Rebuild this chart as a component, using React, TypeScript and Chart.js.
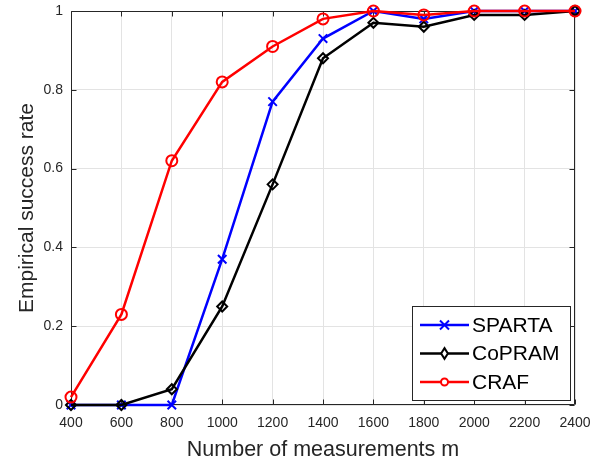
import React, { useEffect, useRef } from 'react';
import { Chart, registerables } from 'chart.js';

Chart.register(...registerables);

const measurements = [400, 600, 800, 1000, 1200, 1400, 1600, 1800, 2000, 2200, 2400];
const spartaRate = [0, 0, 0, 0.37, 0.77, 0.93, 1.0, 0.98, 1.0, 1.0, 1.0];
const copramRate = [0, 0, 0.04, 0.25, 0.56, 0.88, 0.97, 0.96, 0.99, 0.99, 1.0];
const crafRate = [0.02, 0.23, 0.62, 0.82, 0.91, 0.98, 1.0, 0.99, 1.0, 1.0, 1.0];
const seriesNames = ['SPARTA', 'CoPRAM', 'CRAF'];
const xTickValues = [400, 600, 800, 1000, 1200, 1400, 1600, 1800, 2000, 2200, 2400];
const yTickValues = [0, 0.2, 0.4, 0.6, 0.8, 1];
const xTitle = 'Number of measurements m';
const yTitle = 'Empirical success rate';

const FONT = '"Liberation Sans", Arial, Helvetica, sans-serif';
const AXIS_COLOR = '#262626';

function drawMarker(ctx: CanvasRenderingContext2D, kind: string, x: number, y: number, r: number, color: string) {
  ctx.save();
  ctx.strokeStyle = color;
  ctx.lineWidth = 2;
  ctx.beginPath();
  if (kind === 'crossRot') {
    ctx.moveTo(x - r, y - r);
    ctx.lineTo(x + r, y + r);
    ctx.moveTo(x + r, y - r);
    ctx.lineTo(x - r, y + r);
  } else if (kind === 'rectRot') {
    ctx.moveTo(x, y - r * 1.2);
    ctx.lineTo(x + r * 0.75, y);
    ctx.lineTo(x, y + r * 1.2);
    ctx.lineTo(x - r * 0.75, y);
    ctx.closePath();
    ctx.fillStyle = '#ffffff';
    ctx.fill();
  } else {
    ctx.arc(x, y, r, 0, Math.PI * 2);
    ctx.fillStyle = '#ffffff';
    ctx.fill();
  }
  ctx.stroke();
  ctx.restore();
}

const framePlugin = {
  id: 'matlabFrame',
  beforeDatasetsDraw(chart: any) {
    const { ctx, chartArea } = chart;
    const { left, right, top, bottom } = chartArea;
    const xs = chart.scales.x;
    const ys = chart.scales.y;
    ctx.save();
    ctx.strokeStyle = AXIS_COLOR;
    ctx.lineWidth = 1;
    const L = Math.round(left) + 0.5;
    const R = Math.round(right) - 0.5;
    const T = Math.round(top) + 0.5;
    const B = Math.round(bottom) - 0.5;
    ctx.beginPath();
    ctx.rect(L, T, R - L, B - T);
    const tl = 5;
    xTickValues.forEach((v) => {
      const px = Math.round(xs.getPixelForValue(v)) + 0.5;
      ctx.moveTo(px, B);
      ctx.lineTo(px, B - tl);
      ctx.moveTo(px, T);
      ctx.lineTo(px, T + tl);
    });
    yTickValues.forEach((v) => {
      const py = Math.round(ys.getPixelForValue(v)) + 0.5;
      ctx.moveTo(L, py);
      ctx.lineTo(L + tl, py);
      ctx.moveTo(R, py);
      ctx.lineTo(R - tl, py);
    });
    ctx.stroke();
    ctx.restore();
  },
  afterDatasetsDraw(chart: any) {
    const { ctx } = chart;
    const boxL = 412.5, boxT = 306.5, boxW = 158, boxH = 94;
    ctx.save();
    ctx.fillStyle = '#ffffff';
    ctx.fillRect(boxL, boxT, boxW, boxH);
    ctx.strokeStyle = AXIS_COLOR;
    ctx.lineWidth = 1;
    ctx.strokeRect(boxL, boxT, boxW, boxH);
    const rowY = [325, 353.5, 382];
    chart.data.datasets.forEach((ds: any, i: number) => {
      const y = rowY[i];
      ctx.strokeStyle = ds.borderColor;
      ctx.lineWidth = 2.5;
      ctx.beginPath();
      ctx.moveTo(420, y);
      ctx.lineTo(469, y);
      ctx.stroke();
      const r = ds.pointStyle === 'circle' ? 3.5 : 4.5;
      drawMarker(ctx, ds.pointStyle, 444.5, y, r, ds.borderColor);
      ctx.fillStyle = '#000000';
      ctx.font = `21px ${FONT}`;
      ctx.textAlign = 'left';
      ctx.textBaseline = 'middle';
      ctx.fillText(ds.label, 472, y + 1);
    });
    ctx.restore();
  },
};

export default function App() {
  const canvasRef = useRef<HTMLCanvasElement | null>(null);

  useEffect(() => {
    if (!canvasRef.current) return;
    const toPoints = (vals: number[]) => measurements.map((m, i) => ({ x: m, y: vals[i] }));
    const common = {
      borderWidth: 2.5,
      pointBorderWidth: 2,
      pointBackgroundColor: 'rgba(0,0,0,0)',
      fill: false,
      tension: 0,
      clip: false as any,
    };
    const chart = new Chart(canvasRef.current, {
      type: 'line',
      data: {
        datasets: [
          {
            ...common,
            label: seriesNames[0],
            data: toPoints(spartaRate),
            borderColor: '#0000ff',
            pointBorderColor: '#0000ff',
            pointStyle: 'crossRot',
            pointRadius: 6,
            order: 3,
          },
          {
            ...common,
            label: seriesNames[1],
            data: toPoints(copramRate),
            borderColor: '#000000',
            pointBorderColor: '#000000',
            pointStyle: 'rectRot',
            pointRadius: 5,
            order: 2,
          },
          {
            ...common,
            label: seriesNames[2],
            data: toPoints(crafRate),
            borderColor: '#ff0000',
            pointBorderColor: '#ff0000',
            pointStyle: 'circle',
            pointRadius: 5.5,
            order: 1,
          },
        ],
      },
      options: {
        animation: false,
        responsive: false,
        maintainAspectRatio: false,
        events: [],
        layout: { padding: { top: 11, right: 17, left: 0, bottom: 0 } },
        plugins: {
          legend: { display: false },
          tooltip: { enabled: false },
        },
        scales: {
          x: {
            type: 'linear',
            min: 400,
            max: 2400,
            afterBuildTicks: (scale: any) => {
              scale.ticks = xTickValues.map((v) => ({ value: v }));
            },
            afterFit: (scale: any) => {
              scale.height = 58;
              scale.paddingLeft = 0;
              scale.paddingRight = 0;
            },
            ticks: {
              autoSkip: false,
              maxRotation: 0,
              padding: 10,
              color: AXIS_COLOR,
              font: { family: FONT, size: 14 },
              callback: (v: any) => String(v),
            },
            grid: { color: '#e3e3e3', lineWidth: 1, drawTicks: false },
            border: { display: false },
            title: {
              display: true,
              text: xTitle,
              color: AXIS_COLOR,
              font: { family: FONT, size: 21.5 },
              padding: { top: 0, bottom: 0 },
            },
          },
          y: {
            type: 'linear',
            min: 0,
            max: 1,
            afterBuildTicks: (scale: any) => {
              scale.ticks = yTickValues.map((v) => ({ value: v }));
            },
            afterFit: (scale: any) => {
              scale.width = 71;
              scale.paddingTop = 0;
              scale.paddingBottom = 0;
            },
            ticks: {
              autoSkip: false,
              padding: 8,
              color: AXIS_COLOR,
              font: { family: FONT, size: 14 },
              callback: (v: any) => String(Math.round(Number(v) * 10) / 10),
            },
            grid: { color: '#e3e3e3', lineWidth: 1, drawTicks: false },
            border: { display: false },
            title: {
              display: true,
              text: yTitle,
              color: AXIS_COLOR,
              font: { family: FONT, size: 21 },
              padding: { top: 15, bottom: 0 },
            },
          },
        },
      },
      plugins: [framePlugin],
    });
    return () => chart.destroy();
  }, []);

  return (
    <div style={{ position: 'absolute', left: 0, top: 0, width: 592, height: 463, background: '#ffffff' }}>
      <canvas ref={canvasRef} width={592} height={463} style={{ display: 'block', width: 592, height: 463 }} />
    </div>
  );
}
